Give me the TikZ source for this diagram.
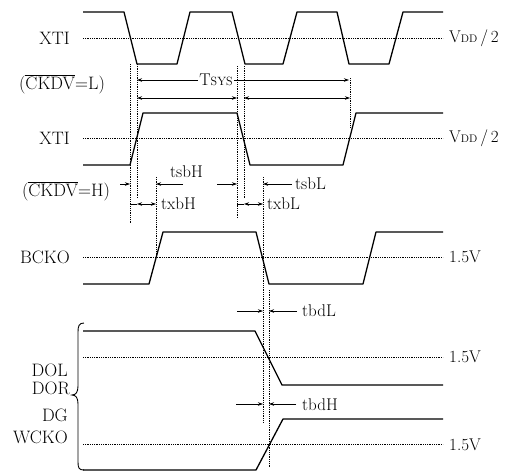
\documentclass[tikz,border=0pt]{standalone}
\usetikzlibrary{arrows.meta}
\begin{document}
\begin{tikzpicture}[x=1pt,y=-1pt,
  wave/.style={line width=1.3pt,line join=round},
  midl/.style={densely dotted,line width=0.8pt},
  guide/.style={densely dotted,line width=0.8pt},
  dim/.style={line width=0.7pt,-{Stealth[length=5pt,width=3.5pt]}},
  dimb/.style={line width=0.7pt,{Stealth[length=5pt,width=3.5pt]}-{Stealth[length=5pt,width=3.5pt]}},
  lab/.style={inner sep=0pt,font=\fontsize{18}{20}\selectfont},
  tlab/.style={inner sep=0pt,font=\fontsize{17}{19}\selectfont}]
\useasboundingbox (0,0) rectangle (519,472);

% left labels
\node[lab,anchor=east] (xti1) at (70,38) {XTI};
\node[lab] (ckl) at (62,84) {(\(\overline{\mbox{CKDV}}\)=L)};
\node[lab,anchor=east] (xti2) at (70,138) {XTI};
\node[lab] (ckh) at (66,191) {(\(\overline{\mbox{CKDV}}\)=H)};
\node[lab,anchor=east] (bcko) at (70,257) {BCKO};
\node[lab,anchor=east] (dol) at (68,370) {DOL};
\node[lab,anchor=east] (dor) at (70,388) {DOR};
\node[lab,anchor=east] (dg) at (68,415) {DG};
\node[lab,anchor=east] (wcko) at (68,437) {WCKO};

% right labels
\node[tlab,anchor=west] (v1) at (449,38) {V{\fontsize{11}{11}\selectfont DD}\,/\,2};
\node[tlab,anchor=west] (v2) at (449,138) {V{\fontsize{11}{11}\selectfont DD}\,/\,2};
\node[tlab,anchor=west] (r3) at (449,257) {1.5V};
\node[tlab,anchor=west] (r4) at (449,357) {1.5V};
\node[tlab,anchor=west] (r5) at (449,445) {1.5V};

% mid lines
\draw[midl] (83,38) -- (443,38);
\draw[midl] (83,138) -- (443,138);
\draw[midl] (83,257) -- (443,257);
\draw[midl] (83,357) -- (443,357);
\draw[midl] (83,444) -- (443,444);

% waveforms
\draw[wave] (83,12) -- (124,12) -- (137,64) -- (177,64) -- (190,12) -- (232,12) -- (245,64) -- (283,64) -- (297,12) -- (337,12) -- (349,64) -- (389,64) -- (403,12) -- (443,12);
\draw[wave] (83,165) -- (130,165) -- (143,113) -- (237,113) -- (250,165) -- (343,165) -- (356,113) -- (443,113);
\draw[wave] (83,284) -- (149,284) -- (163,232) -- (256,232) -- (269,284) -- (363,284) -- (376,232) -- (443,232);
\draw[wave] (83,331) -- (255,331) -- (282,385) -- (443,385);
\draw[wave] (83,470) -- (256,470) -- (283,419) -- (443,419);

% brace
\draw[line width=0.9pt] (84,323) .. controls (79,323) and (78,326) .. (78,332) -- (78,386)
  .. controls (78,392) and (76,395) .. (72,395)
  .. controls (76,395) and (78,398) .. (78,404) -- (78,462)
  .. controls (78,468) and (79,470) .. (84,470);

% guide lines
\draw[guide] (130,64) -- (130,223);
\draw[guide] (137,64) -- (137,198);
\draw[guide] (237,66) -- (237,218);
\draw[guide] (244,66) -- (244,198);
\draw[guide] (350,78) -- (350,128);
\draw[guide] (156,177) -- (156,257);
\draw[guide] (263,177) -- (263,423);
\draw[guide] (269,290) -- (269,468);

% Tsys
\node[tlab,fill=white,inner sep=1pt] (tsys) at (216,80) {T{\fontsize{12}{12}\selectfont SYS}};
\draw[dim] (tsys.west) -- (137,80);
\draw[dim] (tsys.east) -- (349,80);
\draw[dimb] (137,98) -- (237,98);
\draw[dimb] (244,98) -- (350,98);

% tsbH / txbH
\node[tlab,anchor=west] (tsbh) at (170,172) {tsbH};
\draw[dim] (120,184) -- (130,184);
\draw[dim] (183,184) -- (156,184);
\node[tlab,anchor=west] (txbh) at (161,204) {txbH};
\draw[line width=0.7pt] (130,204) -- (137,204);
\draw[dimb] (137,204) -- (156,204);

% tsbL / txbL
\node[tlab,anchor=west] (tsbl) at (295,184) {tsbL};
\draw[dim] (217,184) -- (237,184);
\draw[dim] (292,184) -- (263,184);
\node[tlab,anchor=west] (txbl) at (267,204) {txbL};
\draw[line width=0.7pt] (237,204) -- (244,204);
\draw[dimb] (244,204) -- (263,204);

% tbdL / tbdH
\node[tlab,anchor=west] (tbdl) at (302,311) {tbdL};
\draw[dim] (237,311) -- (263,311);
\draw[dim] (297,311) -- (269,311);
\node[tlab,anchor=west] (tbdh) at (302,405) {tbdH};
\draw[dim] (236,404) -- (263,404);
\draw[dim] (296,404) -- (269,404);
\end{tikzpicture}
\end{document}
